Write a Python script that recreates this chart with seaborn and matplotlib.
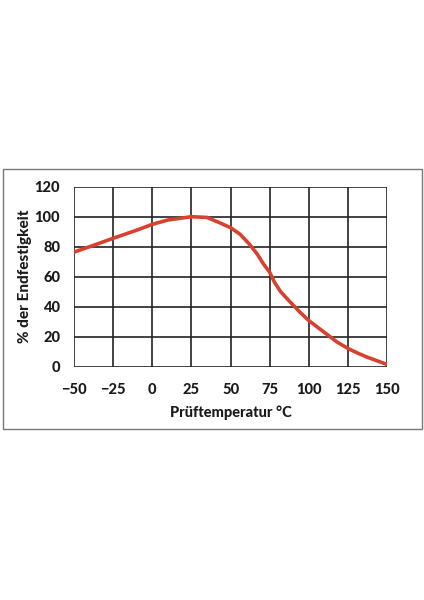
import matplotlib
matplotlib.use("Agg")
import matplotlib.pyplot as plt
import seaborn as sns
from matplotlib.patches import Rectangle

# values
temp = [-50, -40, -25, -10, 0, 10, 25, 35, 43, 50, 56, 62, 67, 71, 75,
        78, 82, 88, 94, 100, 107, 112, 118, 125, 131, 137, 144, 150]
strength = [76.4, 80, 85.6, 91, 94.9, 97.8, 100, 99.5, 96, 92.7, 88.4, 81.8,
            75.2, 68.6, 63, 56.5, 50, 43.3, 36.7, 30.8, 25.2, 21.3, 16.5,
            12.2, 9.2, 6.5, 3.8, 1.5]

x_ticks = [-50, -25, 0, 25, 50, 75, 100, 125, 150]
x_labels = ["\u221250", "\u221225", "0", "25", "50", "75", "100", "125", "150"]
y_ticks = [0, 20, 40, 60, 80, 100, 120]

sns.set_style("white")
plt.rcParams["font.family"] = ["Lato", "DejaVu Sans"]

fig = plt.figure(figsize=(4.24, 6), dpi=100)
ax = fig.add_axes([74 / 424, 1 - 366.7 / 600, 313 / 424, 180 / 600])

sns.lineplot(x=temp, y=strength, ax=ax, color="#d8412f", linewidth=2.6,
             solid_capstyle="round", solid_joinstyle="round", zorder=3)

ax.set_xlim(-50, 150)
ax.set_ylim(0, 120)
ax.set_xticks(x_ticks)
ax.set_xticklabels(x_labels)
ax.set_yticks(y_ticks)
ax.grid(True, color="#222222", linewidth=1.2)
for s in ax.spines.values():
    s.set_visible(False)
ax.tick_params(axis="both", length=6, width=1.2, color="#222222",
               labelsize=10.5, labelcolor="#1a1a1a")
ax.tick_params(axis="x", pad=6)
ax.tick_params(axis="y", pad=4)
for lab in ax.get_xticklabels() + ax.get_yticklabels():
    lab.set_fontweight("black")

ax.set_xlabel("Prüftemperatur °C", fontsize=10.5, fontweight="black",
              color="#1a1a1a", labelpad=6)
ax.set_ylabel("% der Endfestigkeit", fontsize=11, fontweight="black",
              color="#1a1a1a", labelpad=2)

# grey frame around the whole chart
fig.patches.append(Rectangle((3 / 424, 1 - 429 / 600), 419 / 424, 260 / 600,
                             transform=fig.transFigure, fill=False,
                             edgecolor="#777777", linewidth=1.0))

fig.savefig("out.png", dpi=100, facecolor="white")
